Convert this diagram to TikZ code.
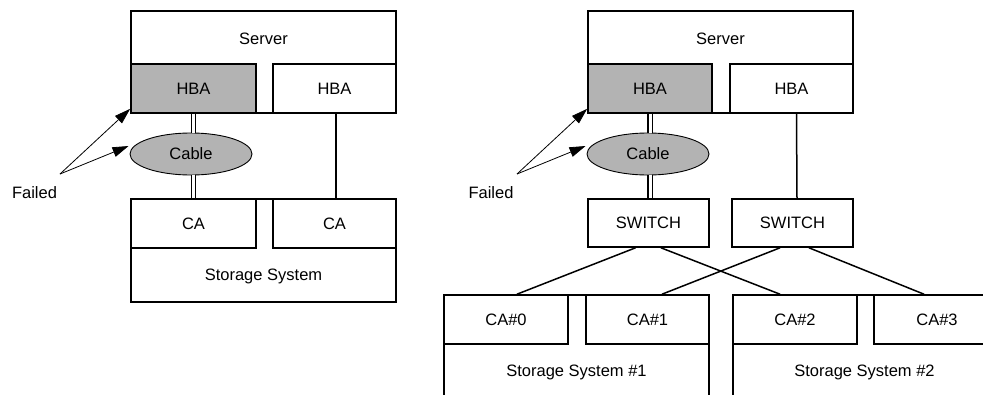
\documentclass[tikz,border=0pt]{standalone}
\usepackage{fontspec}
\setmainfont{Liberation Sans}
\usetikzlibrary{arrows.meta,shapes.geometric,calc}
\definecolor{failgray}{HTML}{B3B3B3}
\begin{document}
\begin{tikzpicture}[x=1pt,y=-1pt,
  txt/.style={font=\fontsize{16.5}{20}\selectfont, inner sep=0pt},
  box/.style={draw, line width=1.6pt, inner sep=0pt, font=\fontsize{16.5}{20}\selectfont},
  failbox/.style={box, fill=failgray},
  cableshape/.style={ellipse, draw, line width=0.9pt, fill=failgray, inner sep=0pt,
    minimum width=122pt, minimum height=42pt, font=\fontsize{16.5}{20}\selectfont},
  dbl/.style={double, line width=1.1pt, double distance=3pt},
  wire/.style={line width=1.5pt},
  pointer/.style={line width=0.8pt, -{Triangle[length=16pt,width=10pt]}}
]
\clip (0,0) rectangle (983,394);
\fill[white] (0,0) rectangle (983,394);

% ---------------- left diagram ----------------
\node[box, minimum width=265pt, minimum height=102pt] (srv1) at (263.5,62) {};
\node[txt] (srv1t) at (263.5,39) {Server};
\node[failbox, minimum width=125pt, minimum height=49pt] (hbaL1) at (193.5,88.5) {HBA};
\node[box, minimum width=123pt, minimum height=49pt] (hbaR1) at (334.5,88.5) {HBA};
\node[cableshape] (cable1) at (191,154) {Cable};
\node[box, minimum width=265pt, minimum height=103pt] (st1) at (263.5,250.5) {};
\node[box, minimum width=125pt, minimum height=49pt] (caL1) at (193.5,223.5) {CA};
\node[box, minimum width=123pt, minimum height=49pt] (caR1) at (334.5,223.5) {CA};
\node[txt] (st1t) at (263.5,276) {Storage System};

\draw[dbl] (hbaL1.south) -- (hbaL1.south |- cable1.north);
\draw[dbl] (caL1.north |- cable1.south) -- (caL1.north);
\draw[wire] ($(hbaR1.south)+(1.5,0)$) -- ($(caR1.north)+(1.5,0)$);

\node[txt] (fail1) at (34.5,193) {Failed};
\coordinate (f1) at (60,174);
\draw[pointer] (f1) -- ($(hbaL1.south west)+(0,-5)$);
\draw[pointer] (f1) -- ($(cable1.west)+(-1,-8)$);

% ---------------- right diagram ----------------
\node[box, minimum width=265pt, minimum height=102pt] (srv2) at (720.5,62) {};
\node[txt] (srv2t) at (720.5,39) {Server};
\node[failbox, minimum width=124pt, minimum height=49pt] (hbaL2) at (650,88.5) {HBA};
\node[box, minimum width=123pt, minimum height=49pt] (hbaR2) at (791.5,88.5) {HBA};
\node[cableshape] (cable2) at (648,154) {Cable};
\node[box, minimum width=121pt, minimum height=48pt] (sw1) at (648.5,223) {SWITCH};
\node[box, minimum width=121pt, minimum height=48pt] (sw2) at (792.5,223) {SWITCH};

\draw[dbl] (hbaL2.south) -- (hbaL2.south |- cable2.north);
\draw[dbl] (hbaL2.south |- cable2.south) -- (hbaL2.south |- sw1.north);
\draw[wire] ($(hbaR2.south)+(5,0)$) -- ($(sw2.north)+(4.5,0)$);

\node[txt] (fail2) at (491,193) {Failed};
\coordinate (f2) at (517,174);
\draw[pointer] (f2) -- ($(hbaL2.south west)+(0,-5)$);
\draw[pointer] (f2) -- ($(cable2.west)+(-1,-8)$);

% storage systems
\node[box, minimum width=265pt, minimum height=125pt] (st2a) at (576.5,357.5) {};
\node[box, minimum width=124pt, minimum height=49pt] (ca0) at (506,319.5) {CA\#0};
\node[box, minimum width=123pt, minimum height=49pt] (ca1) at (647.5,319.5) {CA\#1};
\node[txt] (st2at) at (576.5,372) {Storage System \#1};

\node[box, minimum width=267pt, minimum height=125pt] (st2b) at (866.5,357.5) {};
\node[box, minimum width=124pt, minimum height=49pt] (ca2) at (795,319.5) {CA\#2};
\node[box, minimum width=126pt, minimum height=49pt] (ca3) at (937,319.5) {CA\#3};
\node[txt] (st2bt) at (864.5,372) {Storage System \#2};

\draw[wire] ($(sw1.south)+(-13,0)$) -- ($(ca0.north)+(11,0)$);
\draw[wire] ($(sw1.south)+(12.5,0)$) -- ($(ca2.north)+(-15,0)$);
\draw[wire] ($(sw2.south)+(-12.5,0)$) -- ($(ca1.north)+(14.5,0)$);
\draw[wire] ($(sw2.south)+(16.5,0)$) -- ($(ca3.north)+(-13,0)$);
\end{tikzpicture}
\end{document}
